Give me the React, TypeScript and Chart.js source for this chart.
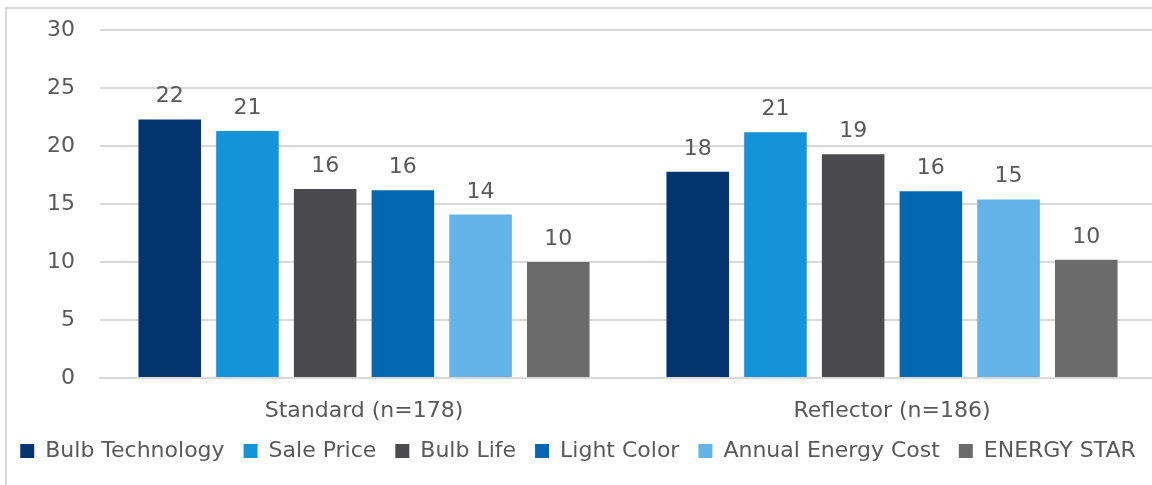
import React, { useEffect, useRef } from "react";
import { Chart, registerables } from "chart.js";

Chart.register(...registerables);

const categories = ["Standard (n=178)", "Reflector (n=186)"];
const seriesNames = [
  "Bulb Technology",
  "Sale Price",
  "Bulb Life",
  "Light Color",
  "Annual Energy Cost",
  "ENERGY STAR",
];
const bulbTechnology = [22.3, 17.8];
const salePrice = [21.3, 21.2];
const bulbLife = [16.3, 19.3];
const lightColor = [16.2, 16.1];
const annualEnergyCost = [14.1, 15.4];
const energyStar = [10.0, 10.2];
const yTicks = [0, 5, 10, 15, 20, 25, 30];

const seriesValues = [bulbTechnology, salePrice, bulbLife, lightColor, annualEnergyCost, energyStar];
const seriesColors = ["#05356f", "#1493d8", "#4b4b4d", "#0367b4", "#63b2e8", "#6b6b6b"];

const FONT = "'DejaVu Sans', sans-serif";
const TEXT = "#595959";

// Rounded value written above each bar
const valueLabels = {
  id: "valueLabels",
  afterDatasetsDraw(chart: any) {
    const ctx = chart.ctx;
    ctx.save();
    ctx.font = `22px ${FONT}`;
    ctx.fillStyle = TEXT;
    ctx.textAlign = "center";
    ctx.textBaseline = "alphabetic";
    chart.data.datasets.forEach((ds: any, i: number) => {
      const meta = chart.getDatasetMeta(i);
      meta.data.forEach((bar: any, j: number) => {
        ctx.fillText(String(Math.round(ds.data[j])), bar.x, bar.y - 17);
      });
    });
    ctx.restore();
  },
};

export default function App() {
  const ref = useRef<HTMLCanvasElement>(null);

  useEffect(() => {
    const chart = new Chart(ref.current!, {
      type: "bar",
      data: {
        labels: categories,
        datasets: seriesNames.map((name, i) => ({
          label: name,
          data: seriesValues[i],
          backgroundColor: seriesColors[i],
          categoryPercentage: 0.883,
          barPercentage: 0.805,
        })),
      },
      options: {
        animation: false,
        responsive: false,
        maintainAspectRatio: false,
        layout: { padding: { top: 2, bottom: 5, left: 0, right: 0 } },
        scales: {
          x: {
            grid: { display: false },
            border: { display: true, color: "#d9d9d9", width: 2 },
            ticks: { color: TEXT, font: { family: FONT, size: 22 }, padding: 12 },
            afterFit: (scale: any) => {
              scale.height = 43;
            },
          },
          y: {
            min: 0,
            max: 30,
            afterBuildTicks: (scale: any) => {
              scale.ticks = yTicks.map((v) => ({ value: v }));
            },
            afterFit: (scale: any) => {
              scale.width = 100;
            },
            grid: { color: "#d9d9d9", lineWidth: 2, drawTicks: false },
            border: { display: false },
            ticks: { color: TEXT, font: { family: FONT, size: 22 }, padding: 25 },
          },
        },
        plugins: {
          legend: {
            position: "bottom",
            labels: {
              color: TEXT,
              font: { family: FONT, size: 22 },
              boxWidth: 14,
              boxHeight: 14,
              padding: 19,
            },
          },
          tooltip: { enabled: false },
        },
      },
      plugins: [valueLabels],
    });
    return () => chart.destroy();
  }, []);

  return (
    <div
      style={{
        position: "fixed",
        left: 0,
        top: 0,
        width: 1152,
        height: 485,
        overflow: "hidden",
        background: "#fff",
      }}
    >
      <div
        style={{
          position: "absolute",
          left: 5,
          top: 7,
          width: 1200,
          height: 520,
          border: "2px solid #d9d9d9",
          boxSizing: "border-box",
        }}
      />
      <canvas
        ref={ref}
        width={1156}
        height={485}
        style={{ position: "absolute", left: 0, top: -8 }}
      />
    </div>
  );
}
